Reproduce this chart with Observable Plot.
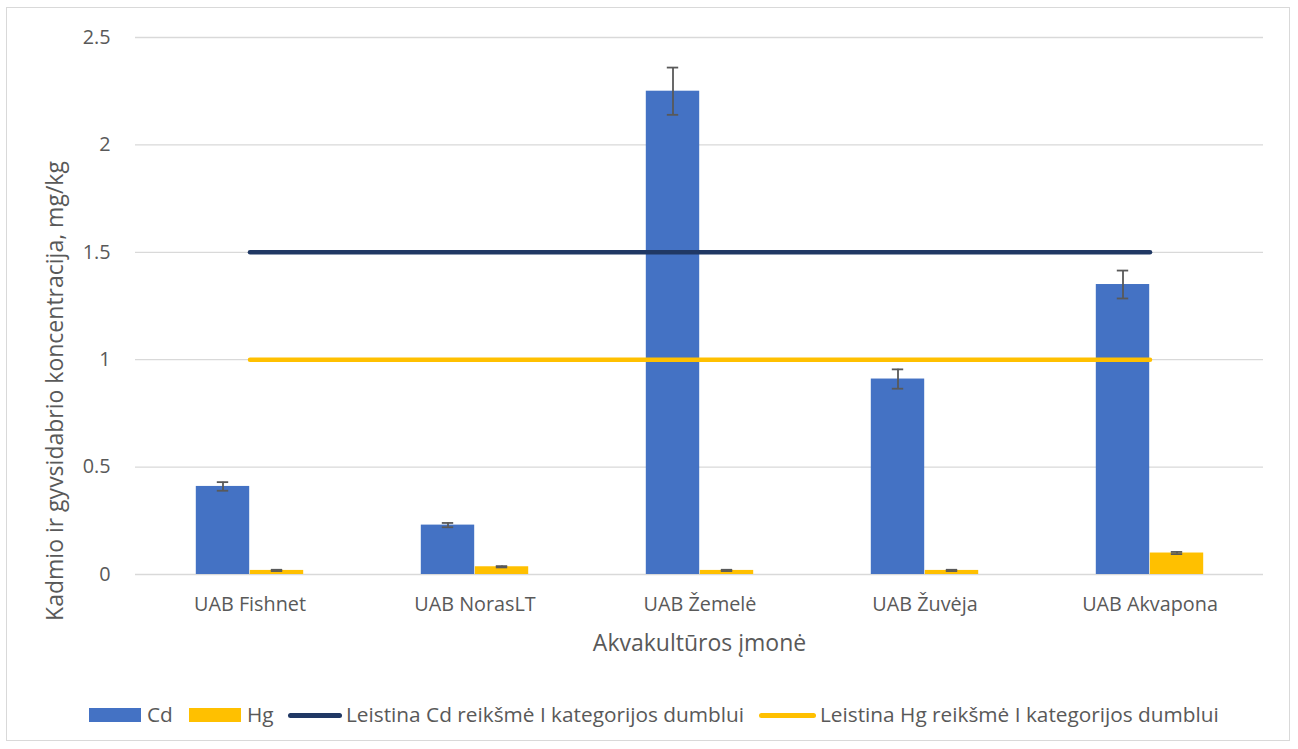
<!DOCTYPE html>
<html>
<head>
<meta charset="utf-8">
<script src="https://cdn.jsdelivr.net/npm/d3@7"></script>
<script src="https://cdn.jsdelivr.net/npm/@observablehq/plot@0.6"></script>
<style>
  body { margin: 0; background: #fff; font-family: "Open Sans", sans-serif; }
  #frame { position: absolute; left: 6px; top: 7px; width: 1284px; height: 734px; border: 1px solid #d9d9d9; box-sizing: border-box; }
  #chart { position: absolute; left: 0; top: 0; }
  .lg { position: absolute; color: #595959; font-size: 20.8px; line-height: 22px; white-space: nowrap; }
  .sw { position: absolute; }
</style>
</head>
<body>
<div id="frame"></div>
<div id="chart"></div>
<div id="legend"></div>
<script>
const companies = ["UAB Fishnet", "UAB NorasLT", "UAB Žemelė", "UAB Žuvėja", "UAB Akvapona"];
const cdValues = [0.41, 0.23, 2.25, 0.91, 1.35];
const cdErrors = [0.02, 0.01, 0.11, 0.045, 0.065];
const hgValues = [0.019, 0.036, 0.019, 0.019, 0.10];
const hgErrors = [0.003, 0.003, 0.003, 0.003, 0.005];
const cdLimit = [1.5, 1.5, 1.5, 1.5, 1.5];
const hgLimit = [1, 1, 1, 1, 1];
const yTicks = [0, 0.5, 1, 1.5, 2, 2.5];
const seriesNames = ["Cd", "Hg", "Leistina Cd reikšmė I kategorijos dumblui", "Leistina Hg reikšmė I kategorijos dumblui"];

const colors = { Cd: "#4472C4", Hg: "#FFC000", cdLine: "#203864", hgLine: "#FFC000", err: "#595959" };

const cd = companies.map((c, i) => ({ company: c, v: cdValues[i], e: cdErrors[i] }));
const hg = companies.map((c, i) => ({ company: c, v: hgValues[i], e: hgErrors[i] }));
const cdL = companies.map((c, i) => ({ company: c, v: cdLimit[i] }));
const hgL = companies.map((c, i) => ({ company: c, v: hgLimit[i] }));

const W = 1298, H = 680, mL = 135, mR = 35, mT = 37, mB = 106;
const bw = (W - mL - mR) / companies.length;
const half = bw / 2;
const barW = 54;
const capHalf = 6;

const errMarks = (data, side) => {
  const off = side * barW / 2;
  const capL = half + off - capHalf;
  const capR = half - off - capHalf;
  return [
    Plot.ruleX(data, { x: "company", y1: d => d.v - d.e, y2: d => d.v + d.e, dx: off, stroke: colors.err, strokeWidth: 1.8 }),
    Plot.tickY(data, { x: "company", y: d => d.v + d.e, insetLeft: capL, insetRight: capR, stroke: colors.err, strokeWidth: 1.8 }),
    Plot.tickY(data, { x: "company", y: d => d.v - d.e, insetLeft: capL, insetRight: capR, stroke: colors.err, strokeWidth: 1.8 })
  ];
};

const plot = Plot.plot({
  width: W, height: H,
  marginLeft: mL, marginRight: mR, marginTop: mT, marginBottom: mB,
  style: { color: "#595959", fontFamily: "'Open Sans', sans-serif", fontSize: "19.8px", background: "transparent" },
  x: { type: "band", domain: companies, padding: 0, label: null },
  y: { domain: [0, 2.5], label: null },
  marks: [
    Plot.gridY(yTicks, { stroke: "#d9d9d9", strokeOpacity: 1, strokeWidth: 1.3 }),
    Plot.axisY(yTicks, { tickSize: 0, tickPadding: 25, tickFormat: d => String(d), label: null, fontSize: 19.8 }),
    Plot.axisX({ tickSize: 0, tickPadding: 22, label: null, fontSize: 19.8 }),
    Plot.barY(cd, { x: "company", y: "v", fill: colors.Cd, insetLeft: half - barW, insetRight: half }),
    Plot.barY(hg, { x: "company", y: "v", fill: colors.Hg, insetLeft: half, insetRight: half - barW }),
    ...errMarks(cd, -1),
    ...errMarks(hg, 1),
    Plot.lineY(cdL, { x: "company", y: "v", stroke: colors.cdLine, strokeWidth: 4.5, strokeLinecap: "round" }),
    Plot.lineY(hgL, { x: "company", y: "v", stroke: colors.hgLine, strokeWidth: 4.5, strokeLinecap: "round" }),
    Plot.text(["Akvakultūros įmonė"], { text: d => d, frameAnchor: "bottom", textAnchor: "middle", dy: 76, fontSize: 23, fill: "#595959" }),
    Plot.text(["Kadmio ir gyvsidabrio koncentracija, mg/kg"], { text: d => d, frameAnchor: "left", textAnchor: "middle", rotate: -90, dx: -80, dy: 85, fontSize: 23, fill: "#595959" })
  ]
});
document.getElementById("chart").appendChild(plot);

// legend
const legend = document.getElementById("legend");
const items = [
  { name: seriesNames[0], kind: "box", color: colors.Cd, sx: 89, sw: 52, tx: 147 },
  { name: seriesNames[1], kind: "box", color: colors.Hg, sx: 189, sw: 52, tx: 247 },
  { name: seriesNames[2], kind: "line", color: colors.cdLine, sx: 288, sw: 54, tx: 346 },
  { name: seriesNames[3], kind: "line", color: colors.hgLine, sx: 759, sw: 57, tx: 820 }
];
const cy = 715;
for (const it of items) {
  const s = document.createElement("div");
  s.className = "sw";
  s.style.left = it.sx + "px";
  s.style.width = it.sw + "px";
  s.style.background = it.color;
  if (it.kind === "box") { s.style.top = (cy - 7) + "px"; s.style.height = "14px"; }
  else { s.style.top = (cy - 2.5) + "px"; s.style.height = "5px"; s.style.borderRadius = "3px"; }
  legend.appendChild(s);
  const t = document.createElement("div");
  t.className = "lg";
  t.style.left = it.tx + "px";
  t.style.top = (cy - 12) + "px";
  t.textContent = it.name;
  legend.appendChild(t);
}
</script>
</body>
</html>
